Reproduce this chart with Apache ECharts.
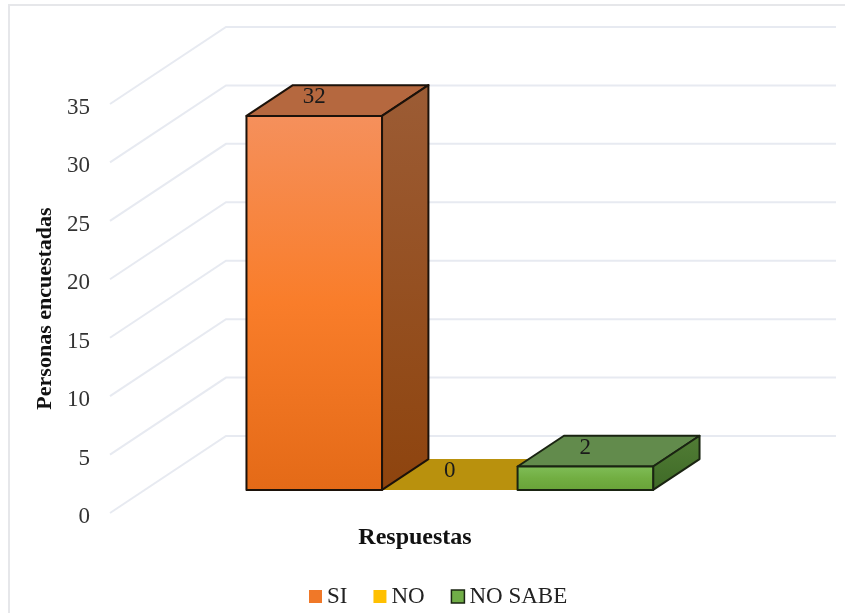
<!DOCTYPE html>
<html>
<head>
<meta charset="utf-8">
<style>html,body{margin:0;padding:0;background:#fff}#chart{width:845px;height:613px}</style>
<script src="https://cdn.jsdelivr.net/npm/echarts@6/dist/echarts.min.js"></script>
</head>
<body>
<div id="chart"></div>
<script>
// Survey answers, drawn as a clustered 3D-look column chart.
const categories = ['Respuestas'];
const seriesNames = ['SI', 'NO', 'NO SABE'];
const seriesValues = [32, 0, 2];
const yTicks = [0, 5, 10, 15, 20, 25, 30, 35];
const yTitle = 'Personas encuestadas';

// Oblique projection of the depth axis.
const WALL_DX = 116, WALL_DY = -77;      // floor depth in pixels
const BAR_INSET = 0.30, BAR_DEPTH = 0.40; // share of the floor depth
const GAP_UNITS = 1.5;                   // free space in the band, in bar widths
const FONT = '"Liberation Serif", serif';

const faces = [
  { front: ['#F5905C', '#F97D2A', '#E46A17'], top: '#B5683F', side: ['#9C5C35', '#8E440E'], edge: '#1c120a', swatch: '#F07828' },
  { front: ['#C9A010', '#C9A010', '#C9A010'], top: '#B9910D', side: ['#B9910D', '#B9910D'], edge: null, swatch: '#FFC000' },
  { front: ['#80BE58', '#72AE42', '#68A238'], top: '#628B4C', side: ['#527D36', '#3E6A26'], edge: '#1a2412', swatch: '#70AD47' }
];

const vGrad = (c) => ({
  type: 'linear', x: 0, y: 0, x2: 0, y2: 1,
  colorStops: c.map((color, i) => ({ offset: i / (c.length - 1), color }))
});

// One horizontal level: the slanted floor-to-wall stroke plus the wall stroke.
function renderGridLevel(params, api) {
  const p = api.coord([0, api.value(0)]);
  const band = api.size([1, 0])[0];
  const x0 = p[0] - band / 2;
  const style = { stroke: '#E7EAF1', lineWidth: 2, fill: 'none' };
  return {
    type: 'polyline',
    shape: { points: [[x0, p[1]], [x0 + WALL_DX, p[1] + WALL_DY], [x0 + band + WALL_DX, p[1] + WALL_DY]] },
    style
  };
}

// One column: front, top and side faces, plus its value on the top face.
function renderBar(index) {
  return function (params, api) {
    const value = api.value(1);
    const band = api.size([1, 0])[0];
    const barW = band / (seriesValues.length + GAP_UNITS);
    const top = api.coord([api.value(0), value]);
    const base = api.coord([api.value(0), 0]);
    const ox = WALL_DX * BAR_INSET, oy = WALL_DY * BAR_INSET;
    const dx = WALL_DX * BAR_DEPTH, dy = WALL_DY * BAR_DEPTH;
    const xl = top[0] - band / 2 + barW * (GAP_UNITS / 2 + index) + ox;
    const xr = xl + barW;
    const yt = top[1] + oy, yb = base[1] + oy;
    const f = faces[index];
    const stroke = f.edge ? { stroke: f.edge, lineWidth: 2, lineJoin: 'round' } : { stroke: null };
    const children = [];
    children.push({
      type: 'polygon',
      shape: { points: [[xl, yt], [xr, yt], [xr + dx, yt + dy], [xl + dx, yt + dy]] },
      style: Object.assign({ fill: f.top }, stroke)
    });
    if (value > 0) {
      children.push({
        type: 'polygon',
        shape: { points: [[xr, yt], [xr + dx, yt + dy], [xr + dx, yb + dy], [xr, yb]] },
        style: Object.assign({ fill: vGrad(f.side) }, stroke)
      });
      children.push({
        type: 'rect',
        shape: { x: xl, y: yt, width: barW, height: yb - yt },
        style: Object.assign({ fill: vGrad(f.front) }, stroke)
      });
    }
    children.push({
      type: 'text',
      style: {
        x: (xl + xr) / 2, y: yt - 19, text: String(value),
        font: '23px ' + FONT, fill: '#1a1a1a', align: 'center', verticalAlign: 'middle'
      }
    });
    return { type: 'group', children };
  };
}

const chart = echarts.init(document.getElementById('chart'), null, { renderer: 'canvas' });
chart.setOption({
  animation: false,
  backgroundColor: '#ffffff',
  textStyle: { fontFamily: FONT },
  graphic: [{
    type: 'polyline',
    shape: { points: [[9, 613], [9, 5], [845, 5]] },
    style: { stroke: '#E6E7EA', lineWidth: 2, fill: 'none' }
  }],
  grid: { left: 110, right: 125, top: 104, bottom: 100 },
  legend: {
    left: 304, top: 580, itemWidth: 13, itemHeight: 13, itemGap: 26, itemStyle: { borderWidth: 0 },
    selectedMode: false,
    textStyle: { fontSize: 23, fontFamily: FONT, color: '#222' },
    data: seriesNames.map((name, i) => ({
      name, icon: 'rect',
      itemStyle: { color: faces[i].swatch, borderColor: i === 2 ? '#1a2412' : faces[i].swatch, borderWidth: i === 2 ? 1.5 : 0 }
    }))
  },
  xAxis: {
    type: 'category', data: categories, name: categories[0], nameLocation: 'middle', nameGap: 13,
    nameTextStyle: { fontSize: 24, fontWeight: 'bold', fontFamily: FONT, color: '#111' },
    axisLine: { show: false }, axisTick: { show: false }, axisLabel: { show: false }, splitLine: { show: false }
  },
  yAxis: {
    type: 'value', min: 0, max: 35, interval: 5, name: yTitle, nameLocation: 'middle', nameGap: 52, nameRotate: 90,
    nameTextStyle: { fontSize: 22, fontWeight: 'bold', fontFamily: FONT, color: '#111' },
    axisLine: { show: false }, axisTick: { show: false }, splitLine: { show: false },
    axisLabel: { fontSize: 23, fontFamily: FONT, color: '#333', margin: 20, verticalAlign: 'top', lineHeight: 8 }
  },
  series: [
    { type: 'custom', name: 'grid', data: yTicks.map((t) => [t]), encode: { y: 0 }, renderItem: renderGridLevel, clip: false, silent: true, z: 1 },
    ...seriesNames.map((name, i) => ({
      type: 'custom', name, data: [[0, seriesValues[i]]], encode: { x: 0, y: 1 },
      itemStyle: { color: faces[i].swatch }, renderItem: renderBar(i), clip: false, z: 2 + (i === 0 ? 1 : i === 1 ? 0 : 2)
    }))
  ]
});
</script>
</body>
</html>
